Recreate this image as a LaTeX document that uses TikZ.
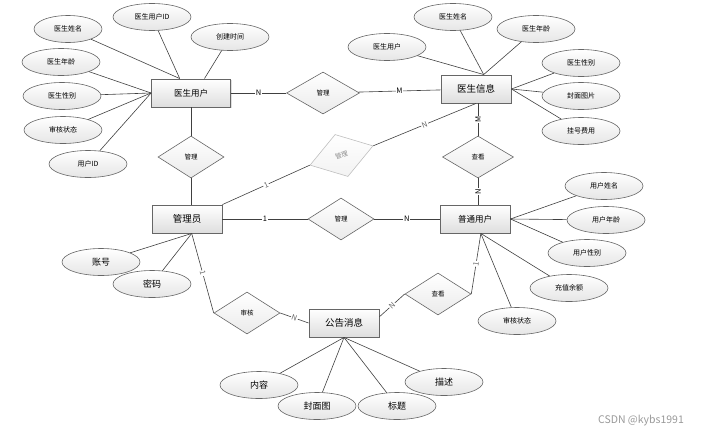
\documentclass[tikz,border=0pt]{standalone}
\usepackage{fontspec}
\setmainfont{Noto Sans CJK SC}
\usetikzlibrary{shapes}
\usetikzlibrary{shadows}
\tikzset{
    entity/.style = {rectangle, draw=black!60, line width=0.9pt, top color=white, bottom color=black!13, minimum width=70pt, minimum height=28pt, inner sep=0pt, font=\fontsize{8.5}{10}\selectfont, drop shadow={opacity=0.25,shadow xshift=1pt,shadow yshift=-1pt}},
    entityb/.style = {entity, font=\fontsize{9.5}{11}\selectfont},
    attr/.style = {ellipse, draw=black!60, line width=0.6pt, top color=white, bottom color=black!10, minimum width=78pt, minimum height=27pt, inner sep=0pt, font=\fontsize{7}{8}\selectfont},
    attrb/.style = {attr, font=\fontsize{9}{10}\selectfont},
    rel/.style = {diamond, draw=black!60, line width=0.6pt, top color=white, bottom color=black!8, minimum width=66pt, minimum height=42pt, inner sep=0pt, font=\fontsize{6.5}{8}\selectfont},
    relg/.style = {rel, draw=black!25, text=black!45, bottom color=black!5},
    edgen/.style = {-, line width=0.6pt, black!75},
    card/.style = {fill=white, inner sep=0.8pt, text=black, font=\fontsize{7.5}{9}\selectfont},
    cardg/.style = {card, text=black!60, sloped}
}
\begin{document}
\begin{tikzpicture}[x=1pt,y=-1pt]
%
\node[entity, minimum width=79pt] at (191,93) (dru) {医生用户};
\node[entityb] at (476,89) (dxx) {医生信息};
\node[entityb] at (187,219) (gly) {管理员};
\node[entity] at (475,219) (pt) {普通用户};
\node[entityb] at (344,323) (gg) {公告消息};
%
\node[rel, minimum width=73pt] at (323,93) (gl1) {管理};
\node[rel] at (191,157) (gl2) {管理};
\node[relg, rotate=17, minimum height=44pt] at (341.5,155.5) (sc) {管理};
\node[rel, minimum width=71pt] at (478,157) (ck1) {查看};
\node[rel] at (341,219) (gl3) {管理};
\node[rel] at (247,313) (sh) {审核};
\node[rel] at (438,294) (ck2) {查看};
%
\node[attr, minimum width=68pt] at (68,29) (a1) {医生姓名};
\node[attr] at (152,17) (a2) {医生用户ID};
\node[attr] at (230,37) (a3) {创建时间};
\node[attr] at (61,62) (a4) {医生年龄};
\node[attr] at (62,96) (a5) {医生性别};
\node[attr] at (63,130) (a6) {审核状态};
\node[attr] at (88,164) (a7) {用户ID};
%
\node[attr] at (387,47) (b1) {医生用户};
\node[attr] at (453,17) (b2) {医生姓名};
\node[attr] at (536,29) (b3) {医生年龄};
\node[attr] at (581,63) (b4) {医生性别};
\node[attr] at (581,96) (b5) {封面图片};
\node[attr] at (581,131) (b6) {挂号费用};
%
\node[attrb] at (101,262) (c1) {账号};
\node[attrb] at (152,284) (c2) {密码};
%
\node[attr] at (604,186) (d1) {用户姓名};
\node[attr] at (606,220) (d2) {用户年龄};
\node[attr] at (587,253) (d3) {用户性别};
\node[attr] at (569,288) (d4) {充值余额};
\node[attr] at (517,321) (d5) {审核状态};
%
\node[attrb] at (259,385) (e1) {内容};
\node[attrb] at (317,406) (e2) {封面图};
\node[attrb] at (397,406) (e3) {标题};
\node[attrb] at (444,382) (e4) {描述};
%
\draw[edgen] (a1) -- (dru.128);
\draw[edgen] (a2) -- (dru.128);
\draw[edgen] (a3) -- (dru.47);
\draw[edgen] (a4) -- (dru.west);
\draw[edgen] (a5) -- (dru.west);
\draw[edgen] (a6) -- (dru.west);
\draw[edgen] (a7) -- (dru.west);
\draw[edgen] (b1) -- (dxx.62);
\draw[edgen] (b2) -- (dxx.62);
\draw[edgen] (b3) -- (dxx.62);
\draw[edgen] (b4) -- (dxx.east);
\draw[edgen] (b5) -- (dxx.east);
\draw[edgen] (b6) -- (dxx.east);
\draw[edgen] (c1) -- (gly.-72);
\draw[edgen] (c2) -- (gly.-72);
\draw[edgen] (d1) -- (pt.east);
\draw[edgen] (d2) -- (pt.east);
\draw[edgen] (d3) -- (pt.east);
\draw[edgen] (d4) -- (pt.-68);
\draw[edgen] (d5) -- (pt.-68);
\draw[edgen] (e1) -- (gg.south);
\draw[edgen] (e2) -- (gg.south);
\draw[edgen] (e3) -- (gg.south);
\draw[edgen] (e4) -- (gg.south);
%
\draw[edgen] (dru) -- node[card] {N} (gl1);
\draw[edgen] (gl1) -- node[card] {M} (dxx);
\draw[edgen] (dru) -- (gl2);
\draw[edgen] (gl2) -- (gl2 |- gly.north);
\draw[edgen] (gly.north east) -- node[cardg] {1} (sc.west);
\draw[edgen] (sc.east) -- node[cardg] {N} (dxx.south);
\draw[edgen] (ck1) -- node[card, rotate=90] {M} (ck1 |- dxx.south);
\draw[edgen] (ck1) -- node[card, rotate=90] {N} (ck1 |- pt.north);
\draw[edgen] (gly) -- node[card] {1} (gl3);
\draw[edgen] (gl3) -- node[card] {N} (pt);
\draw[edgen] (gly.-72) -- node[cardg] {1} (sh.west);
\draw[edgen] (sh.east) -- node[cardg] {N} (gg.west);
\draw[edgen] (gg.10) -- node[cardg] {N} (ck2.west);
\draw[edgen] (ck2.east) -- node[cardg] {1} (pt.-68);
%
\node[text=black!40, font=\fontsize{10.5}{12}\selectfont] at (641,421) (wm) {CSDN @kybs1991};

\path[use as bounding box] (0,0) rectangle (708,434);

\end{tikzpicture}
\end{document}
